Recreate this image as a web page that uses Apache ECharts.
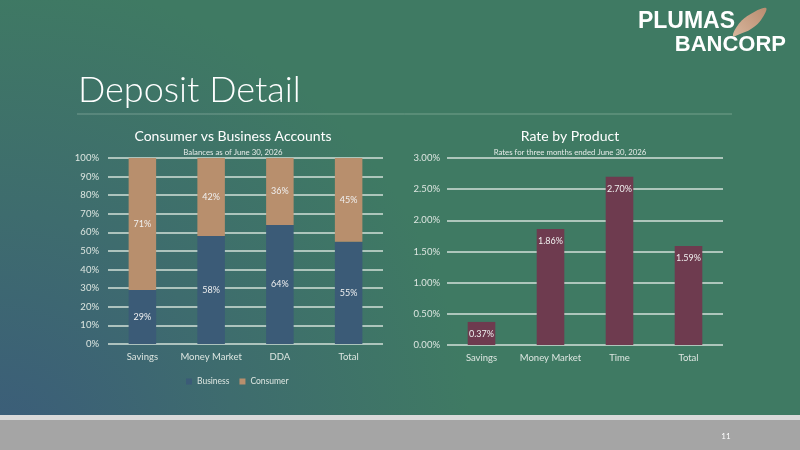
<!DOCTYPE html>
<html>
<head>
<meta charset="utf-8">
<script src="https://cdn.jsdelivr.net/npm/echarts@6/dist/echarts.min.js"></script>
<style>
  html, body { margin: 0; padding: 0; }
  #main { width: 800px; height: 450px; }
</style>
</head>
<body>
<div id="main"></div>
<script>
var mixCategories = ['Savings', 'Money Market', 'DDA', 'Total'];
var businessShare = [29, 58, 64, 55];
var consumerShare = [71, 42, 36, 45];

var rateCategories = ['Savings', 'Money Market', 'Time', 'Total'];
var rateValues = [0.37, 1.86, 2.70, 1.59];

var FONT = 'Lato, "Open Sans", sans-serif';
var axisText = '#dde6e1';
var gridColor = '#d3e0d9';

var chart = echarts.init(document.getElementById('main'));

var option = {
    backgroundColor: {
        type: 'radial', x: 0, y: 1, r: 1.05,
        colorStops: [
            {offset: 0, color: '#3b5c7a'},
            {offset: 0.5, color: '#3e6c6e'},
            {offset: 1, color: '#3f7a63'}
        ]
    },
    textStyle: { fontFamily: FONT },
    legend: {
        data: ['Business', 'Consumer'],
        left: 181, top: 372,
        itemWidth: 6, itemHeight: 6, itemGap: 10,
        icon: 'rect',
        textStyle: { color: axisText, fontSize: 8.5, fontFamily: FONT }
    },
    grid: [
        { left: 108, right: 417, top: 158, bottom: 106 },
        { left: 447, right: 77, top: 158, bottom: 105 }
    ],
    xAxis: [
        {
            type: 'category', gridIndex: 0, data: mixCategories,
            axisLine: { show: false }, axisTick: { show: false },
            axisLabel: { color: axisText, fontSize: 9.5, margin: 8, interval: 0 }
        },
        {
            type: 'category', gridIndex: 1, data: rateCategories,
            axisLine: { show: false }, axisTick: { show: false },
            axisLabel: { color: axisText, fontSize: 9.5, margin: 8, interval: 0 }
        }
    ],
    yAxis: [
        {
            type: 'value', gridIndex: 0, min: 0, max: 100, interval: 10,
            axisLabel: { color: axisText, fontSize: 9.5, margin: 9, formatter: '{value}%' },
            splitLine: { lineStyle: { color: gridColor, width: 1.5 } }
        },
        {
            type: 'value', gridIndex: 1, min: 0, max: 3, interval: 0.5,
            axisLabel: { color: axisText, fontSize: 9.5, margin: 7,
                formatter: function (v) { return v.toFixed(2) + '%'; } },
            splitLine: { lineStyle: { color: gridColor, width: 1.5 } }
        }
    ],
    series: [
        {
            name: 'Business', type: 'bar', stack: 'mix',
            xAxisIndex: 0, yAxisIndex: 0, data: businessShare,
            barWidth: '40%',
            itemStyle: { color: '#3b5b77' },
            label: { show: true, position: 'inside', color: '#f0f0f0', fontSize: 9, formatter: '{c}%' }
        },
        {
            name: 'Consumer', type: 'bar', stack: 'mix',
            xAxisIndex: 0, yAxisIndex: 0, data: consumerShare,
            barWidth: '40%',
            itemStyle: { color: '#b88f6d' },
            label: { show: true, position: 'inside', color: '#f0f0f0', fontSize: 9, formatter: '{c}%' }
        },
        {
            name: 'Rate', type: 'bar',
            xAxisIndex: 1, yAxisIndex: 1, data: rateValues,
            barWidth: '40%',
            itemStyle: { color: '#6e3b4f' },
            label: { show: true, position: 'insideTop', distance: 8, color: '#f0f0f0', fontSize: 9,
                formatter: function (p) { return p.value.toFixed(2) + '%'; } }
        }
    ],
    graphic: [
        // footer
        { type: 'rect', shape: { x: 0, y: 415, width: 800, height: 35 }, style: { fill: '#a5a5a5' }, silent: true },
        { type: 'rect', shape: { x: 0, y: 415, width: 800, height: 5 }, style: { fill: '#d9d9d9' }, silent: true },
        { type: 'text', x: 726, y: 436, style: { text: '11', fill: '#ffffff', fontSize: 8, fontFamily: FONT, align: 'center', verticalAlign: 'middle' } },
        // page title
        { type: 'text', x: 78, y: 90, style: { text: 'Deposit Detail', fill: '#ffffff', fontSize: 36, fontWeight: 300, fontFamily: FONT, verticalAlign: 'middle' } },
        { type: 'line', shape: { x1: 77, y1: 114, x2: 732, y2: 114 }, style: { stroke: 'rgba(215,230,222,0.35)', lineWidth: 1 } },
        // logo
        { type: 'text', x: 735, y: 22, style: { text: 'PLUMAS', fill: '#ffffff', fontSize: 23, fontWeight: 'bold', fontFamily: '"Liberation Sans", Arial, sans-serif', align: 'right', verticalAlign: 'middle' } },
        { type: 'text', x: 786, y: 45, style: { text: 'BANCORP', fill: '#ffffff', fontSize: 22, fontWeight: 'bold', fontFamily: '"Liberation Sans", Arial, sans-serif', align: 'right', verticalAlign: 'middle' } },
        { type: 'polygon', shape: { points: [[733, 36], [738, 25], [749, 15], [766, 8], [761, 20], [751, 29], [740, 34]], smooth: 0.4 },
          style: { fill: { type: 'linear', x: 0, y: 1, x2: 1, y2: 0, colorStops: [{offset: 0, color: '#d8b59c'}, {offset: 1, color: '#b98d70'}] } } },
        // chart titles
        { type: 'text', x: 233, y: 136, style: { text: 'Consumer vs Business Accounts', fill: '#ffffff', fontSize: 14, fontFamily: FONT, align: 'center', verticalAlign: 'middle' } },
        { type: 'text', x: 233, y: 152, style: { text: 'Balances as of June 30, 2026', fill: '#e6ece9', fontSize: 7.8, fontFamily: FONT, align: 'center', verticalAlign: 'middle' } },
        { type: 'text', x: 570, y: 136, style: { text: 'Rate by Product', fill: '#ffffff', fontSize: 14, fontFamily: FONT, align: 'center', verticalAlign: 'middle' } },
        { type: 'text', x: 570, y: 152, style: { text: 'Rates for three months ended June 30, 2026', fill: '#e6ece9', fontSize: 7.8, fontFamily: FONT, align: 'center', verticalAlign: 'middle' } }
    ]
};

chart.setOption(option);
</script>
</body>
</html>
